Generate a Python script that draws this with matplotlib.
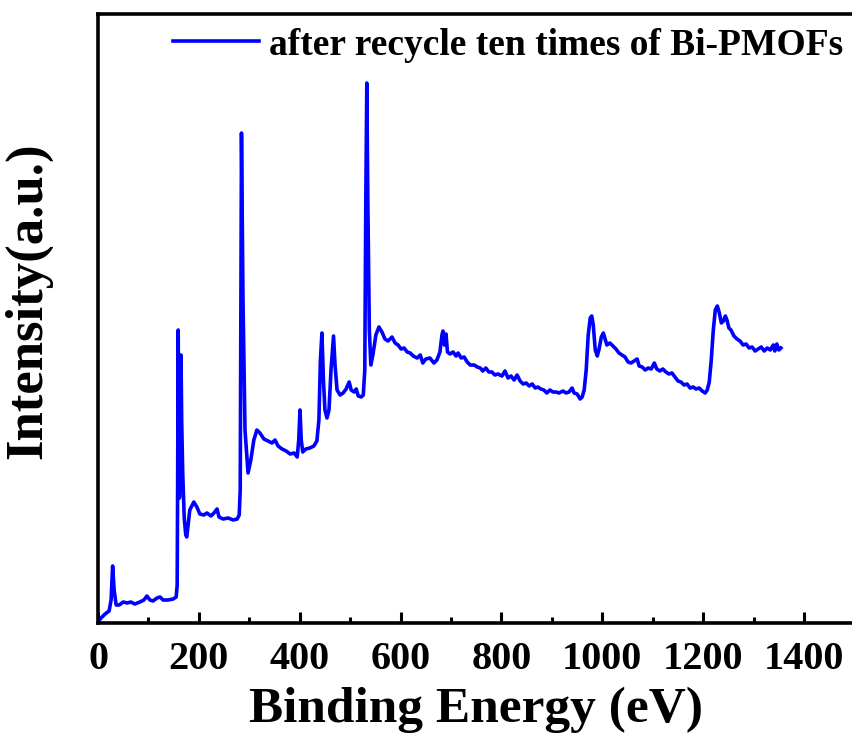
import matplotlib
matplotlib.use("Agg")
import matplotlib.pyplot as plt
from matplotlib.ticker import MultipleLocator

plt.rcParams['font.family'] = ['Liberation Serif', 'DejaVu Serif']
plt.rcParams['font.weight'] = 'bold'

# XPS survey spectrum: binding energy (eV) and intensity (a.u.)
binding_energy = [
    0, 6, 14, 22, 26, 29, 32, 36, 42, 50, 58, 65, 73, 83, 91, 97, 103, 109, 117, 123,
    129, 139, 149, 155, 157, 158, 159, 160, 161.5, 163, 164.5, 166, 168, 171, 174, 176,
    182, 190, 196, 202, 210, 216, 224, 230, 236, 240, 248, 258, 268, 276, 280, 282,
    284.5, 287.5, 291.5, 297.5, 303, 309, 315, 321, 329, 337, 345, 351, 357, 365, 373,
    381, 389, 395, 398, 400.5, 403, 406, 412, 420, 428, 434, 438, 441, 444, 447, 450,
    454, 458, 462, 467, 470, 474, 480, 486, 492, 498, 502, 508, 512, 516, 522, 526,
    529, 531, 533, 535, 538, 541, 545, 551, 557, 563, 569, 575, 583, 589, 595, 601,
    607, 613, 619, 625, 633, 639, 644, 650, 658, 666, 672, 678, 682, 684, 687, 690,
    693, 698, 704, 710, 714, 720, 726, 732, 738, 746, 752, 758, 763, 769, 775, 781,
    787, 793, 801, 807, 813, 819, 825, 831, 837, 843, 849, 855, 861, 867, 872, 878,
    884, 890, 896, 902, 908, 914, 922, 928, 934, 940, 944, 950, 956, 960, 964, 968,
    972, 976, 979, 982, 986, 990, 994, 998, 1002, 1005, 1009, 1015, 1021, 1027, 1033,
    1039, 1045, 1051, 1057, 1063, 1069, 1073, 1079, 1085, 1091, 1097, 1103, 1108,
    1114, 1120, 1126, 1132, 1138, 1144, 1150, 1156, 1162, 1168, 1174, 1180, 1186,
    1192, 1198, 1204, 1208, 1212, 1216, 1220, 1224, 1228, 1232, 1236, 1240, 1244,
    1247, 1251, 1255, 1261, 1267, 1273, 1279, 1285, 1291, 1297, 1303, 1309, 1315,
    1321, 1327, 1333, 1339, 1342, 1346, 1350, 1354,
]
intensity = [
    1, 5, 9, 12, 23, 57, 33, 18, 18, 21, 20, 21, 19, 21, 23, 27, 23, 22, 25, 26,
    23, 23, 24, 26, 38, 150, 293, 200, 125, 190, 268, 200, 150, 105, 88, 86,
    113, 121, 116, 109, 108, 110, 107, 110, 114, 106, 104, 105, 103, 104, 108, 133,
    490, 323, 193, 150, 163, 183, 193, 190, 184, 182, 180, 183, 177, 174, 172,
    169, 170, 166, 183, 213, 183, 171, 174, 175, 177, 182, 203, 263, 290, 243, 213,
    205, 213, 253, 287, 258, 233, 228, 230, 234, 241, 233, 231, 234, 227, 226, 228,
    253, 423, 540, 423, 293, 258, 268, 288, 296, 291, 284, 282, 286, 280, 278, 274,
    275, 271, 270, 267, 265, 268, 260, 264, 265, 260, 263, 271, 288, 292, 278, 289,
    271, 269, 271, 267, 270, 265, 266, 261, 258, 258, 256, 255, 252, 255, 251, 251,
    248, 249, 247, 252, 245, 247, 243, 248, 242, 239, 240, 237, 239, 235, 236, 234,
    233, 230, 233, 231, 231, 230, 232, 230, 231, 235, 230, 229, 224, 226, 233, 253,
    288, 305, 307, 298, 273, 267, 275, 286, 290, 285, 278, 280, 277, 274, 270,
    268, 266, 261, 260, 262, 264, 257, 256, 253, 255, 254, 260, 254,
    252, 254, 251, 249, 250, 246, 242, 241, 238, 239, 235, 236, 234,
    235, 232, 230, 233, 241, 263, 293, 313, 317, 310, 300, 302, 307,
    303, 295, 293, 287, 284, 282, 278, 279, 275, 276, 272, 274, 276,
    272, 275, 273, 278, 272, 279, 273, 275,
]

series_label = "after recycle ten times of Bi-PMOFs"
x_ticks = [0, 200, 400, 600, 800, 1000, 1200, 1400]

W, H = 852, 734
fig = plt.figure(figsize=(W / 100, H / 100), dpi=100)
ax_left, ax_right, ax_top, ax_bottom = 98, 854.5, 14, 623
ax = fig.add_axes([ax_left / W, (H - ax_bottom) / H,
                   (ax_right - ax_left) / W, (ax_bottom - ax_top) / H])

ax.plot(binding_energy, intensity, color='#0000ff', lw=2.6, label=series_label,
        solid_joinstyle='round')

ax.set_xlim(0, 1500)
ax.set_ylim(0, 609)
ax.set_xticks(x_ticks)
ax.xaxis.set_minor_locator(MultipleLocator(100))
ax.set_yticks([])
ax.tick_params(axis='x', which='major', direction='in', length=8, width=2.2,
               labelsize=29, pad=13)
ax.tick_params(axis='x', which='minor', direction='in', length=4, width=2.2)
for lbl in ax.get_xticklabels():
    lbl.set_fontweight('bold')
for sp in ax.spines.values():
    sp.set_linewidth(2.6)

ax.set_xlabel("Binding Energy (eV)", fontsize=37, fontweight='bold', labelpad=6)
ax.set_ylabel("Intensity(a.u.)", fontsize=38, fontweight='bold')
ax.yaxis.set_label_coords(-0.06, 0.53)

ax.legend(loc='center left', bbox_to_anchor=(0.099, 0.949), frameon=False,
          borderpad=0, borderaxespad=0, handlelength=2.3, handletextpad=0.25,
          prop={'size': 27, 'weight': 'bold'})

fig.savefig("out.png", dpi=100)
